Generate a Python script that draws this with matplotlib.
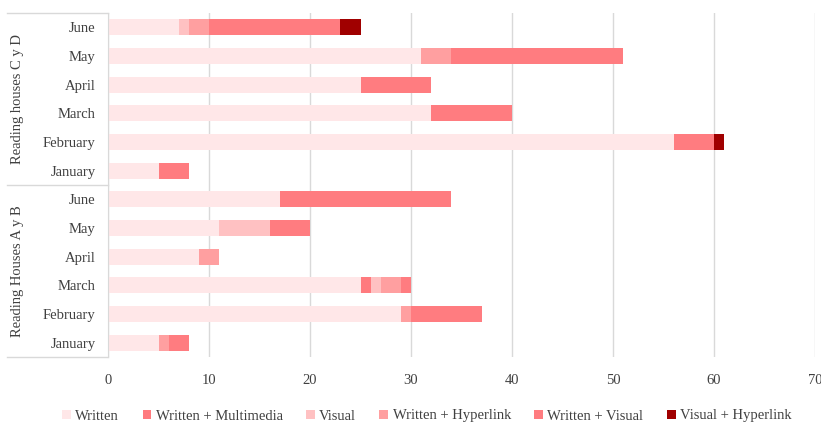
import numpy as np
import matplotlib.pyplot as plt

# rows from bottom to top: Houses A y B (Jan..Jun), then houses C y D (Jan..Jun)
months = ["January", "February", "March", "April", "May", "June"]
groups = ["Reading Houses A y B", "Reading houses C y D"]

series = ["Written", "Written + Multimedia", "Visual",
          "Written + Hyperlink", "Written + Visual", "Visual + Hyperlink"]
colors = ["#FFE7E8", "#FF7A7E", "#FFC1C2", "#FF9FA0", "#FF7C80", "#A00000"]

written = [5, 29, 25, 9, 11, 17, 5, 56, 32, 25, 31, 7]
written_multimedia = [0, 0, 1, 0, 0, 0, 0, 0, 0, 0, 0, 0]
visual = [0, 0, 1, 0, 5, 0, 0, 0, 0, 0, 0, 1]
written_hyperlink = [1, 1, 2, 2, 0, 0, 0, 0, 0, 0, 3, 2]
written_visual = [2, 7, 1, 0, 4, 17, 3, 4, 8, 7, 17, 13]
visual_hyperlink = [0, 0, 0, 0, 0, 0, 0, 1, 0, 0, 0, 2]


def main():
    plt.rcParams["font.family"] = ["Liberation Serif", "DejaVu Serif"]
    plt.rcParams["font.size"] = 10.5

    fig = plt.figure(figsize=(8.21, 4.25), dpi=100)
    ax = fig.add_axes([108 / 821, 1 - 357 / 425, 707 / 821, 344 / 425])

    data = [written, written_multimedia, visual,
            written_hyperlink, written_visual, visual_hyperlink]
    y = np.arange(len(written))
    left = np.zeros(len(written))
    for name, vals, col in zip(series, data, colors):
        ax.barh(y, vals, left=left, height=0.56, color=col, label=name,
                zorder=2)
        left += np.array(vals)

    ax.set_xlim(0, 70)
    ax.set_ylim(-0.5, 11.5)
    ax.set_xticks(range(0, 71, 10))
    ax.set_yticks(y)
    ax.set_yticklabels(months * 2, color="#404040")
    ax.tick_params(axis="y", length=0, pad=9)
    ax.tick_params(axis="x", length=0, pad=12, colors="#404040")
    ax.grid(axis="x", color="#D9D9D9", lw=1, zorder=0)
    for s in ["top", "right", "bottom"]:
        ax.spines[s].set_visible(False)
    ax.spines["left"].set_color("#D9D9D9")

    # group label box on the left
    trans = ax.get_yaxis_transform()
    x0 = (7 - 108) / 707
    for yy in [-0.5, 5.5, 11.5]:
        ax.plot([x0, 0], [yy, yy], color="#D9D9D9", lw=1,
                transform=trans, clip_on=False)
    for i, g in enumerate(groups):
        ax.text((18 - 108) / 707, 2.5 + 6 * i, g, rotation=90,
                ha="center", va="center", transform=trans, color="#404040")

    leg = fig.legend(loc="center", bbox_to_anchor=(0.52, 1 - 416 / 425),
                     ncol=6, frameon=False, handlelength=0.6,
                     handleheight=0.6, handletextpad=0.3,
                     columnspacing=1.6)
    for t in leg.get_texts():
        t.set_color("#404040")

    plt.savefig("out.png", dpi=100)


if __name__ == "__main__":
    main()
